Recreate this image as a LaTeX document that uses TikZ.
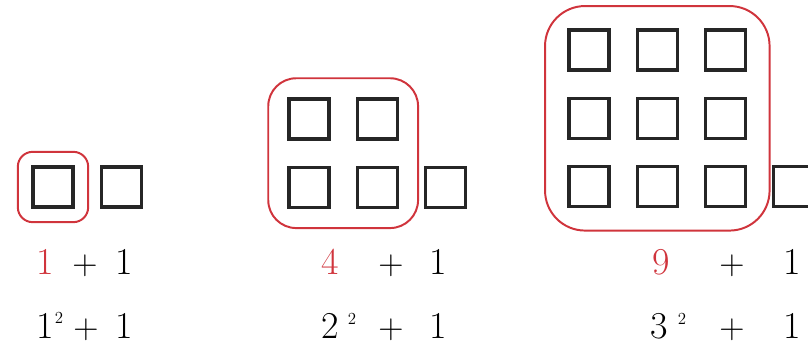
\documentclass[tikz,border=0pt]{standalone}
\usepackage{tikz}
\usetikzlibrary{positioning, fit}
\definecolor{boxred}{RGB}{208,52,60}

\begin{document}
\begin{tikzpicture}[
    x=0.025cm, y=-0.025cm,
    node distance=0.63cm,
    cell/.style={draw=black!85, line width=2.2pt, minimum size=1cm, inner sep=0pt},
    group/.style={draw=boxred, line width=1.4pt},
    tok/.style={font=\fontsize{27}{32}\selectfont, anchor=base, inner sep=0pt},
    expo/.style={font=\fontsize{12}{14}\selectfont, anchor=base, inner sep=0pt}
]
\clip (0,0) rectangle (808,353);

% 1 + 1
\node[cell] (a1) at (53,187) {};
\node[cell, right=of a1] (a2) {};
\node[group, rounded corners=0.37cm, inner sep=0.34cm, fit=(a1)] (g1) {};

\node[tok, text=boxred] (n1) at (45,274) {1};
\node[tok] (p1) at (85,274) {$+$};
\node[tok] (o1) at (124,274) {1};
\node[tok] (b1) at (45,338) {1};
\node[expo] (e1) at (59,323) {2};
\node[tok] (q1) at (86,338) {$+$};
\node[tok] (u1) at (124,338) {1};

% 4 + 1
\node[cell] (b11) at (309,119) {};
\node[cell, right=of b11] (b12) {};
\node[cell, below=of b11] (b21) {};
\node[cell, right=of b21] (b22) {};
\node[cell, right=of b22] (b23) {};
\node[group, rounded corners=0.7cm, inner sep=0.48cm, fit=(b11)(b22)] (g2) {};

\node[tok, text=boxred] (n2) at (330,274) {4};
\node[tok] (p2) at (391,274) {$+$};
\node[tok] (o2) at (438,274) {1};
\node[tok] (b2) at (330,338) {2};
\node[expo] (e2) at (352,324) {2};
\node[tok] (q2) at (391,338) {$+$};
\node[tok] (u2) at (438,338) {1};

% 9 + 1
\node[cell] (c11) at (589,50) {};
\node[cell, right=of c11] (c12) {};
\node[cell, right=of c12] (c13) {};
\node[cell, below=of c11] (c21) {};
\node[cell, right=of c21] (c22) {};
\node[cell, right=of c22] (c23) {};
\node[cell, below=of c21] (c31) {};
\node[cell, right=of c31] (c32) {};
\node[cell, right=of c32] (c33) {};
\node[cell, right=of c33] (c34) {};
\node[group, rounded corners=1cm, inner sep=0.56cm, fit=(c11)(c33)] (g3) {};

\node[tok, text=boxred] (n3) at (661,274) {9};
\node[tok] (p3) at (732,274) {$+$};
\node[tok] (o3) at (792,274) {1};
\node[tok] (b3) at (659,338) {3};
\node[expo] (e3) at (682,324) {2};
\node[tok] (q3) at (732,338) {$+$};
\node[tok] (u3) at (792,338) {1};
\end{tikzpicture}
\end{document}
